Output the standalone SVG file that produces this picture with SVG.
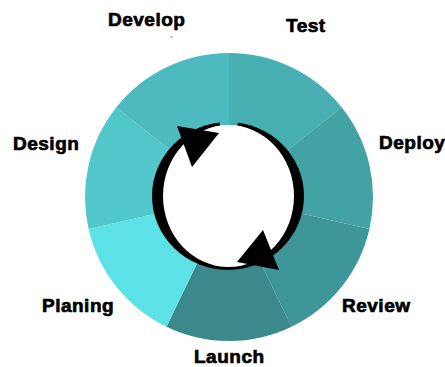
<svg xmlns="http://www.w3.org/2000/svg" width="445" height="367" viewBox="0 0 445 367">
<style>
.lbl{font-family:"Liberation Sans",Arial,sans-serif;font-weight:bold;font-size:19px;fill:#000;stroke:#000;stroke-width:0.7;letter-spacing:0.5px}
</style>
<defs>
<mask id="gap">
<rect width="445" height="367" fill="#fff"/>
<polygon points="228,196 217,100 241,100" fill="#000"/>
</mask>
</defs>
<rect width="445" height="367" fill="#fff"/>
<g id="wheel">
<g id="seg-test"><path d="M229,197 L229,53 A144,144 0 0 1 341.6,107.2 Z" fill="#47AFB2"/></g>
<g id="seg-deploy"><path d="M229,197 L341.6,107.2 A144,144 0 0 1 369.4,229 Z" fill="#43A2A4"/></g>
<g id="seg-review"><path d="M229,197 L369.4,229 A144,144 0 0 1 291.5,326.7 Z" fill="#3F9698"/></g>
<g id="seg-launch"><path d="M229,197 L291.5,326.7 A144,144 0 0 1 166.5,326.7 Z" fill="#3B898B"/></g>
<g id="seg-planing"><path d="M229,197 L166.5,326.7 A144,144 0 0 1 88.6,229 Z" fill="#5BE1E6"/></g>
<g id="seg-design"><path d="M229,197 L88.6,229 A144,144 0 0 1 116.4,107.2 Z" fill="#51C6CB"/></g>
<g id="seg-develop"><path d="M229,197 L116.4,107.2 A144,144 0 0 1 229,53 Z" fill="#4CBABE"/></g>
</g>
<g id="cycle-arrows">
<ellipse cx="228" cy="196" rx="76" ry="74" fill="#000" mask="url(#gap)"/>
<ellipse cx="228.5" cy="196" rx="65.5" ry="71" fill="#fff"/>
<polygon points="177,126 192,167 219,133" fill="#000"/>
<polygon points="263,230 279,270 237,262" fill="#000"/>
</g>
<g id="labels">
<g id="label-develop"><text class="lbl" x="108" y="25.5">Develop</text></g>
<g id="label-test"><text class="lbl" x="286" y="32">Test</text></g>
<g id="label-design"><text class="lbl" x="13" y="150">Design</text></g>
<g id="label-deploy"><text class="lbl" x="379" y="149">Deploy</text></g>
<g id="label-planing"><text class="lbl" x="42" y="311.5">Planing</text></g>
<g id="label-review"><text class="lbl" x="342" y="312">Review</text></g>
<g id="label-launch"><text class="lbl" x="194" y="363">Launch</text></g>
</g>
<rect x="170" y="36.5" width="3" height="1" fill="#999"/>
</svg>
